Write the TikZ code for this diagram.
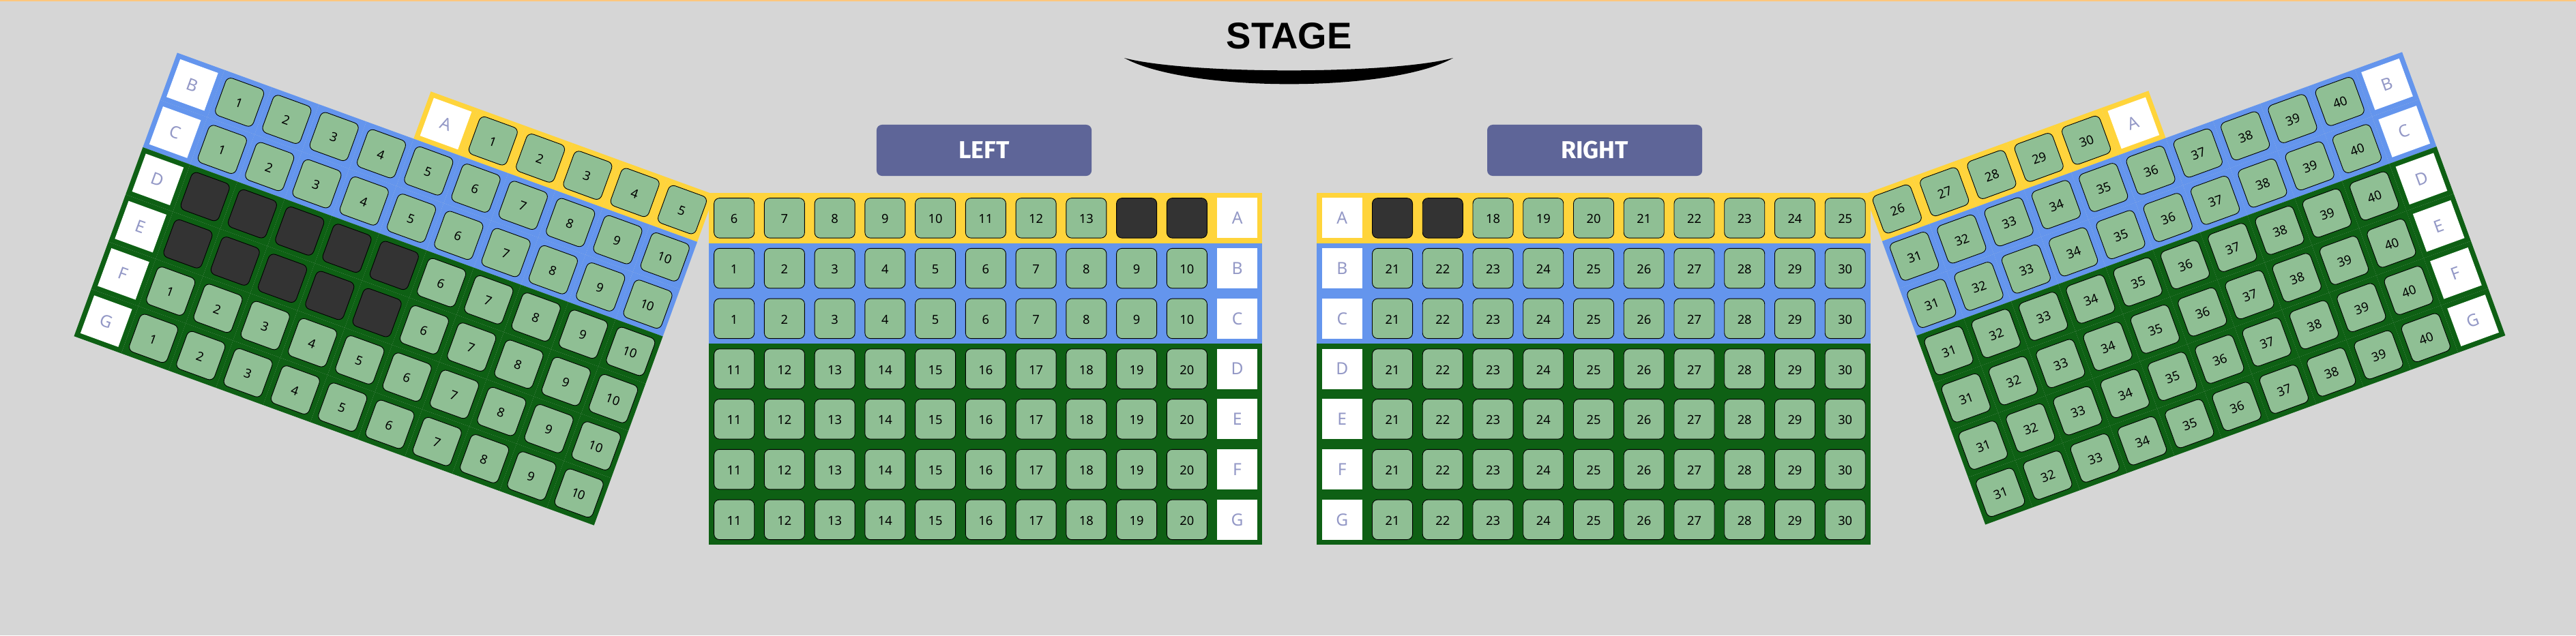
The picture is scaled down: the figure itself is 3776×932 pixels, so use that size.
\documentclass[tikz,border=0pt]{standalone}
\usepackage{fontspec}
\setmainfont{Noto Sans}
\newfontfamily\stagefont{Liberation Sans}
\newfontfamily\sectionfont{Fira Sans}
\usepackage{xcolor}
\usepackage{tikz}
\definecolor{hallgray}{RGB}{214,214,214}
\definecolor{topstrip}{RGB}{255,199,125}
\definecolor{bandyellow}{RGB}{255,212,59}
\definecolor{bandblue}{RGB}{100,149,237}
\definecolor{bandgreen}{RGB}{14,96,20}
\definecolor{seatgreen}{RGB}{143,191,148}
\definecolor{seatdark}{RGB}{51,51,51}
\definecolor{rowletter}{RGB}{147,152,198}
\definecolor{sectionblue}{RGB}{94,101,152}
% one row: block, row, letter, letter column, first column, last column, first number, dark from, dark to
\newcommand{\seatrow}[9]{%
  \node[rowmark] (#1#3) at (#4+.5,#2+.5) {#3};
  \foreach \c in {#5,...,#6}{
    \pgfmathtruncatemacro{\n}{#7+\c-#5}
    \pgfmathtruncatemacro{\off}{and(\n>=#8,\n<=#9)}
    \ifnum\off=1
      \node[darkseat] (#1#3-\n) at (\c+.5,#2+.5) {};
    \else
      \node[seat] (#1#3-\n) at (\c+.5,#2+.5) {\n};
    \fi
  }
}
% cell backgrounds for the turned blocks
\newcommand{\cellrow}[4]{%
  \foreach \c in {#3,...,#4}{\fill[#1] (\c,#2) rectangle +(1,1);}
}
\begin{document}
\begin{tikzpicture}[x=0.01cm,y=-0.01cm]
\tikzstyle{seat}=[draw=black,line width=0.009cm,rounded corners=0.08cm,fill=seatgreen,minimum width=0.59cm,minimum height=0.585cm,inner sep=0pt,text height=0.16cm,font=\fontsize{5.2}{6}\selectfont]
\tikzstyle{darkseat}=[seat,fill=seatdark]
\tikzstyle{rowmark}=[fill=white,text=rowletter,minimum width=0.59cm,minimum height=0.59cm,inner sep=0pt,font=\fontsize{7}{8}\selectfont]
\tikzstyle{section}=[fill=sectionblue,text=white,rounded corners=0.08cm,minimum width=3.15cm,minimum height=0.75cm,inner sep=0pt,font=\sectionfont\bfseries\fontsize{10.2}{11}\selectfont]
\tikzstyle{turned}=[every node/.append style={transform shape}]
\useasboundingbox (0,0) rectangle (3776,932);
\fill[hallgray] (0,0) rectangle (3776,932);
\fill[topstrip] (0,0) rectangle (3776,2);
% stage
\node[anchor=base,inner sep=0pt,font=\stagefont\bfseries\fontsize{15.5}{17}\selectfont] (stage) at (1889.5,71.7) {STAGE};
\fill[black] (1648,85) .. controls (1740,109.4) and (2040,109.4) .. (2130,85) .. controls (2040,136.1) and (1740,136.1) .. (1648,85) -- cycle;
% section titles
\node[section] (left) at (1442.5,220.5) {LEFT};
\node[section] (right) at (2337.6,220.5) {RIGHT};
% left wing
\begin{scope}[shift={(259.8,77.4)},rotate=-20,x=0.737cm,y=-0.737cm,turned]
\cellrow{bandyellow}{-1}{5}{10}
\foreach \r in {0,1} {\cellrow{bandblue}{\r}{0}{10}}
\foreach \r in {2,...,5} {\cellrow{bandgreen}{\r}{0}{10}}
\seatrow{lw}{-1}{A}{5}{6}{10}{1}{0}{0}
\seatrow{lw}{0}{B}{0}{1}{10}{1}{0}{0}
\seatrow{lw}{1}{C}{0}{1}{10}{1}{0}{0}
\seatrow{lw}{2}{D}{0}{1}{10}{1}{1}{5}
\seatrow{lw}{3}{E}{0}{1}{10}{1}{1}{5}
\seatrow{lw}{4}{F}{0}{1}{10}{1}{0}{0}
\seatrow{lw}{5}{G}{0}{1}{10}{1}{0}{0}
\end{scope}
% right wing
\begin{scope}[shift={(2758.8,353.8)},rotate=20,x=0.737cm,y=-0.737cm,turned]
\cellrow{bandyellow}{-1}{0}{5}
\foreach \r in {0,1} {\cellrow{bandblue}{\r}{0}{10}}
\foreach \r in {2,...,5} {\cellrow{bandgreen}{\r}{0}{10}}
\seatrow{rw}{-1}{A}{5}{0}{4}{26}{0}{0}
\seatrow{rw}{0}{B}{10}{0}{9}{31}{0}{0}
\seatrow{rw}{1}{C}{10}{0}{9}{31}{0}{0}
\seatrow{rw}{2}{D}{10}{0}{9}{31}{0}{0}
\seatrow{rw}{3}{E}{10}{0}{9}{31}{0}{0}
\seatrow{rw}{4}{F}{10}{0}{9}{31}{0}{0}
\seatrow{rw}{5}{G}{10}{0}{9}{31}{0}{0}
\end{scope}
% left block
\begin{scope}[shift={(1039.3,283)},x=0.737cm,y=-0.737cm]
\fill[bandyellow] (0,0) rectangle (11,1);
\fill[bandblue] (0,1) rectangle (11,3);
\fill[bandgreen] (0,3) rectangle (11,7);
\seatrow{lb}{0}{A}{10}{0}{9}{6}{14}{15}
\seatrow{lb}{1}{B}{10}{0}{9}{1}{0}{0}
\seatrow{lb}{2}{C}{10}{0}{9}{1}{0}{0}
\seatrow{lb}{3}{D}{10}{0}{9}{11}{0}{0}
\seatrow{lb}{4}{E}{10}{0}{9}{11}{0}{0}
\seatrow{lb}{5}{F}{10}{0}{9}{11}{0}{0}
\seatrow{lb}{6}{G}{10}{0}{9}{11}{0}{0}
\end{scope}
% right block
\begin{scope}[shift={(1930.4,283)},x=0.737cm,y=-0.737cm]
\fill[bandyellow] (0,0) rectangle (11,1);
\fill[bandblue] (0,1) rectangle (11,3);
\fill[bandgreen] (0,3) rectangle (11,7);
\seatrow{rb}{0}{A}{0}{1}{10}{16}{16}{17}
\seatrow{rb}{1}{B}{0}{1}{10}{21}{0}{0}
\seatrow{rb}{2}{C}{0}{1}{10}{21}{0}{0}
\seatrow{rb}{3}{D}{0}{1}{10}{21}{0}{0}
\seatrow{rb}{4}{E}{0}{1}{10}{21}{0}{0}
\seatrow{rb}{5}{F}{0}{1}{10}{21}{0}{0}
\seatrow{rb}{6}{G}{0}{1}{10}{21}{0}{0}
\end{scope}
\end{tikzpicture}
\end{document}
